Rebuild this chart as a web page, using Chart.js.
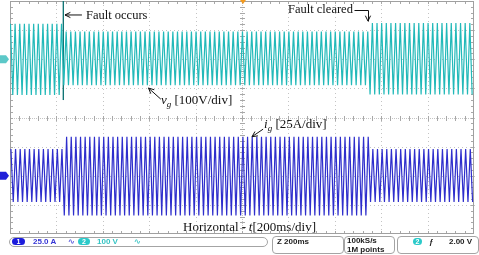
<!DOCTYPE html>
<html>
<head>
<meta charset="utf-8">
<script src="https://cdn.jsdelivr.net/npm/chart.js@4.4.1/dist/chart.umd.min.js"></script>
<style>
  body { margin: 0; background: #fff; overflow: hidden; }
  #wrap { position: relative; width: 479px; height: 255px; }
  canvas { position: absolute; left: 0; top: 0; }
  .lbl { position: absolute; font-family: "Liberation Serif", serif; font-size: 13px; color: #111; white-space: nowrap; line-height: 13px; }
  .lbl sub { font-size: 9px; vertical-align: -3px; line-height: 0; }
  .box { position: absolute; border: 1px solid #a4a4a4; border-radius: 4px; background: #fff; }
  .st { position: absolute; font-family: "Liberation Sans", Arial, sans-serif; font-weight: bold; font-size: 8px; line-height: 8px; white-space: nowrap; }
  .pill { position: absolute; height: 7px; border-radius: 4px; color: #fff; font-family: "Liberation Sans", Arial, sans-serif; font-weight: bold; font-size: 7px; line-height: 7px; text-align: center; }
</style>
</head>
<body>
<div id="wrap">
  <canvas id="scope" width="479" height="255"></canvas>

  <div class="lbl" style="left:86px;top:9px;font-size:12.5px">Fault occurs</div>
  <div class="lbl" style="left:288px;top:3px;font-size:12.5px">Fault cleared</div>
  <div class="lbl" style="left:161px;top:93px"><i>v</i><sub><i>g</i></sub> [100V/div]</div>
  <div class="lbl" style="left:264px;top:117px"><i>i</i><sub><i>g</i></sub> [25A/div]</div>
  <div class="lbl" style="left:183px;top:220px">Horizontal -&thinsp;<i>t</i>[200ms/div]</div>

  <div class="box" style="left:9px;top:237px;width:257px;height:8px;border-radius:5px"></div>
  <div class="pill" style="left:12px;top:238px;width:13px;background:#1c1cdc">1</div>
  <div class="st" style="left:33px;top:238px;color:#3535d5">25.0 A</div>
  <div class="st" style="left:68px;top:238px;color:#6a6ae0">∿</div>
  <div class="pill" style="left:78px;top:238px;width:12px;background:#2ccaca">2</div>
  <div class="st" style="left:97px;top:238px;color:#35c4c4">100 V</div>
  <div class="st" style="left:134px;top:238px;color:#55cccc">∿</div>

  <div class="box" style="left:272px;top:236px;width:70px;height:16px"></div>
  <div class="st" style="left:277px;top:238px;color:#222">Z 200ms</div>
  <div class="box" style="left:344px;top:236px;width:49px;height:16px"></div>
  <div class="st" style="left:347px;top:237px;color:#222">100kS/s</div>
  <div class="st" style="left:347px;top:246px;color:#222">1M points</div>
  <div class="box" style="left:397px;top:236px;width:80px;height:16px"></div>
  <div class="pill" style="left:413px;top:238px;width:9px;background:#2ccaca">2</div>
  <div class="st" style="left:429px;top:238px;color:#222">ƒ</div>
  <div class="st" style="left:449px;top:238px;color:#222">2.00 V</div>
</div>
<script>
// event times (ms)
const segStartMs = [0, 230, 1545];          // normal, fault occurs, fault cleared
const faultMarkMs = [230];

// grid voltage v_g, positive / negative peaks per segment (V)
const vgPosPeakV = [122, 95, 124];
const vgNegPeakV = [-123, -89, -121];

// grid current i_g, positive / negative peaks per segment (A)
const igPosPeakA = [23, 33.5, 23];
const igNegPeakA = [-22.5, -34, -22.5];

const lineHz = 50;
const msPerDiv = 200, voltsPerDiv = 100, ampsPerDiv = 25;
const vgOffsetDiv = 2, igOffsetDiv = -2;   // ground markers, divisions above centre

// annotation arrows, [t(ms), value] tail -> head
const arrowsV = [
  [[310, 152], [237, 152]],
  [[650, -137], [597, -99]]
];
const arrowsA = [
  [[1091, 40], [1043, 33.5]]
];
const clearedElbowV = [[1483, 169], [1543, 169], [1543, 131]];

function segIndex(t) {
  let i = 0;
  while (i + 1 < segStartMs.length && t >= segStartMs[i + 1]) i++;
  return i;
}

// one point per half cycle, alternating between the peaks read for that segment
function peaksTrace(pos, neg, startMs) {
  const half = 1000 / lineHz / 2;
  const pts = [];
  let k = 0;
  for (let t = startMs; t <= msPerDiv * 10; t += half, k++) {
    const s = segIndex(t);
    pts.push({ x: t, y: k % 2 === 0 ? pos[s] : neg[s] });
  }
  return pts;
}

const vgTrace = peaksTrace(vgPosPeakV, vgNegPeakV, 2);
const igTrace = peaksTrace(igPosPeakA, igNegPeakA, 4);

const vMin = -(4 + vgOffsetDiv) * voltsPerDiv, vMax = (4 - vgOffsetDiv) * voltsPerDiv;
const aMin = -(4 + igOffsetDiv) * ampsPerDiv, aMax = (4 - igOffsetDiv) * ampsPerDiv;

const dotted = (ctx, x0, y0, x1, y1, step) => {
  const len = Math.hypot(x1 - x0, y1 - y0);
  for (let d = 0; d <= len; d += step) {
    ctx.fillRect(Math.round(x0 + (x1 - x0) * d / len), Math.round(y0 + (y1 - y0) * d / len), 1, 1);
  }
};

const graticule = {
  id: 'graticule',
  beforeDatasetsDraw(chart) {
    const { ctx, chartArea: a, scales } = chart;
    const x = scales.x, yv = scales.yV;
    ctx.save();
    ctx.fillStyle = '#c4c4c4';
    for (let i = 1; i < 10; i++) {
      const px = x.getPixelForValue(i * msPerDiv);
      dotted(ctx, px, a.top, px, a.bottom, i === 5 ? 2 : 4);
    }
    for (let j = 1; j < 8; j++) {
      const py = yv.getPixelForValue(vMin + j * voltsPerDiv);
      dotted(ctx, a.left, py, a.right, py, j === 4 ? 2 : 4);
    }
    // minor ticks along centre lines and edges
    ctx.fillStyle = '#a8a8a8';
    const cx = Math.round(x.getPixelForValue(5 * msPerDiv));
    const cy = Math.round(yv.getPixelForValue(vMin + 4 * voltsPerDiv));
    for (let m = 1; m < 50; m++) {
      const px = Math.round(x.getPixelForValue(m * msPerDiv / 5));
      ctx.fillRect(px, cy - 2, 1, 5);
      ctx.fillRect(px, a.top, 1, 3);
      ctx.fillRect(px, a.bottom - 3, 1, 3);
    }
    for (let m = 1; m < 40; m++) {
      const py = Math.round(yv.getPixelForValue(vMin + m * voltsPerDiv / 5));
      ctx.fillRect(cx - 2, py, 5, 1);
      ctx.fillRect(a.left, py, 3, 1);
      ctx.fillRect(a.right - 3, py, 3, 1);
    }
    ctx.strokeStyle = '#a0a0a0';
    ctx.lineWidth = 1;
    ctx.strokeRect(a.left + 0.5, a.top + 0.5, a.right - a.left - 1, a.bottom - a.top - 1);
    ctx.restore();
  },
  afterDatasetsDraw(chart) {
    const { ctx, scales } = chart;
    const x = scales.x, yv = scales.yV, ya = scales.yA;
    ctx.save();
    ctx.strokeStyle = '#111';
    ctx.fillStyle = '#111';
    ctx.lineWidth = 1;
    const head = (x0, y0, x1, y1) => {
      const ang = Math.atan2(y1 - y0, x1 - x0);
      ctx.beginPath();
      ctx.moveTo(x1 - 6 * Math.cos(ang - 0.45), y1 - 6 * Math.sin(ang - 0.45));
      ctx.lineTo(x1, y1);
      ctx.lineTo(x1 - 6 * Math.cos(ang + 0.45), y1 - 6 * Math.sin(ang + 0.45));
      ctx.stroke();
    };
    const arrow = (p, ys) => {
      const x0 = x.getPixelForValue(p[0][0]), y0 = ys.getPixelForValue(p[0][1]);
      const x1 = x.getPixelForValue(p[1][0]), y1 = ys.getPixelForValue(p[1][1]);
      ctx.beginPath(); ctx.moveTo(x0, y0); ctx.lineTo(x1, y1); ctx.stroke();
      head(x0, y0, x1, y1);
    };
    arrowsV.forEach(p => arrow(p, yv));
    arrowsA.forEach(p => arrow(p, ya));
    ctx.beginPath();
    clearedElbowV.forEach((p, i) => {
      const px = Math.round(x.getPixelForValue(p[0])) + 0.5, py = Math.round(yv.getPixelForValue(p[1])) + 0.5;
      i ? ctx.lineTo(px, py) : ctx.moveTo(px, py);
    });
    ctx.stroke();
    const e1 = clearedElbowV[1], e2 = clearedElbowV[2];
    head(x.getPixelForValue(e1[0]), yv.getPixelForValue(e1[1]), x.getPixelForValue(e2[0]), yv.getPixelForValue(e2[1]));

    // channel ground markers and trigger position
    const mark = (py, col) => {
      ctx.fillStyle = col;
      ctx.beginPath();
      ctx.moveTo(0, py - 4); ctx.lineTo(6, py - 4); ctx.lineTo(9, py);
      ctx.lineTo(6, py + 4); ctx.lineTo(0, py + 4); ctx.closePath(); ctx.fill();
    };
    mark(yv.getPixelForValue(0), '#5cc8c8');
    mark(ya.getPixelForValue(0), '#2020d8');
    ctx.fillStyle = '#f39a1e';
    const tx = x.getPixelForValue(5 * msPerDiv) + 1;
    ctx.beginPath(); ctx.moveTo(tx - 3, 0); ctx.lineTo(tx + 3, 0); ctx.lineTo(tx, 4); ctx.closePath(); ctx.fill();
    ctx.restore();
  }
};

const chart = new Chart(document.getElementById('scope'), {
  type: 'line',
  data: {
    datasets: [{
      label: 'v_g',
      data: vgTrace,
      yAxisID: 'yV',
      borderColor: '#22b9b9',
      borderWidth: 1.2,
      pointRadius: 0,
      tension: 0
    }, {
      label: 'fault marker',
      data: faultMarkMs.flatMap(t => [{ x: t, y: 200 }, { x: t, y: -140 }]),
      yAxisID: 'yV',
      borderColor: '#137575',
      borderWidth: 1,
      pointRadius: 0
    }, {
      label: 'i_g',
      data: igTrace,
      yAxisID: 'yA',
      borderColor: '#2e2ecc',
      borderWidth: 1.2,
      pointRadius: 0,
      tension: 0
    }]
  },
  options: {
    responsive: false,
    animation: false,
    events: [],
    layout: { padding: { left: 10, right: 5, top: 1, bottom: 21 } },
    plugins: { legend: { display: false }, tooltip: { enabled: false } },
    scales: {
      x: { type: 'linear', min: 0, max: msPerDiv * 10, display: false },
      yV: { type: 'linear', min: vMin, max: vMax, display: false },
      yA: { type: 'linear', min: aMin, max: aMax, display: false }
    }
  },
  plugins: [graticule]
});
</script>
</body>
</html>
